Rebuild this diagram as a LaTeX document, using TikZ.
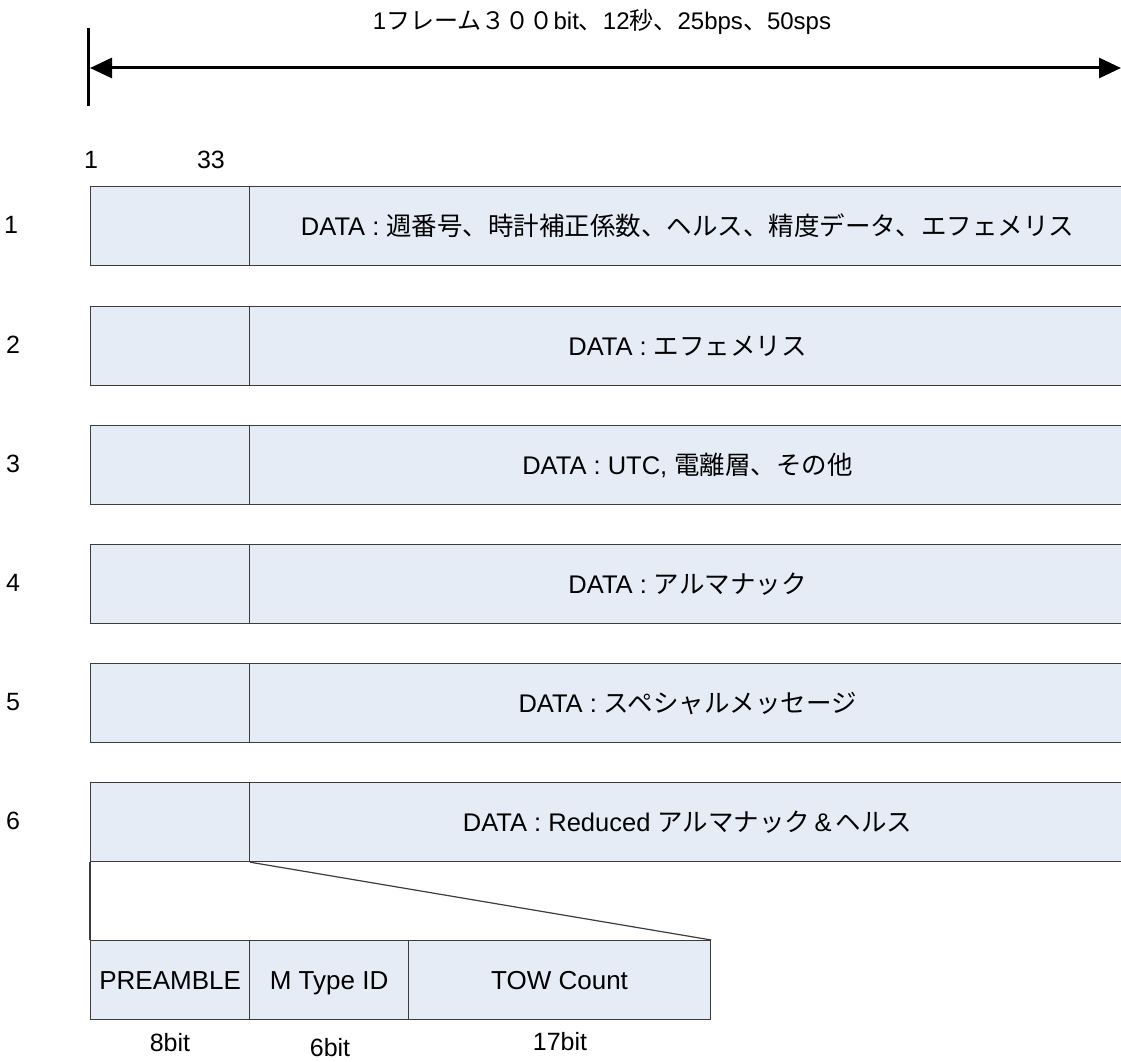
\documentclass[tikz,border=0pt]{standalone}
\usepackage{fontspec}
\setmainfont{Liberation Sans}
\newfontfamily\jp{Noto Sans CJK JP}
\usetikzlibrary{arrows.meta}
\definecolor{cellfill}{RGB}{230,236,246}
\definecolor{cellline}{RGB}{60,60,60}
\begin{document}
\begin{tikzpicture}[x=1pt,y=-1pt,
  cell/.style={draw=cellline, fill=cellfill, line width=1.2pt, minimum height=79pt,
    inner sep=0pt, anchor=north west, text height=21pt, text depth=2pt,
    font=\fontsize{25.5}{30}\selectfont},
  lbl/.style={font=\fontsize{25}{30}\selectfont, inner sep=0pt},
  thin/.style={draw=cellline, line width=1.2pt},
  bigarrow/.style={line width=3pt, {Triangle[length=22pt,width=20pt]}-{Triangle[length=22pt,width=20pt]}}]
\useasboundingbox (0,0) rectangle (1121,1062);
% top arrow
\coordinate (aL) at (90,68);
\coordinate (aR) at (1121,68);
\coordinate (tT) at (88,28);
\coordinate (tB) at (88,106);
\draw[line width=3pt] (tT) -- (tB);
\draw[bigarrow] (aL) -- (aR);
\node[lbl, font=\fontsize{24}{28}\selectfont] (title) at (602,22) {1{\jp フレーム３００}bit{\jp 、}12{\jp 秒、}25bps{\jp 、}50sps};
% column labels
\node[lbl] (c1) at (91,160) {1};
\node[lbl] (c33) at (211,160) {33};
% rows
\node[cell, minimum width=159pt] (h1) at (90,186) {};
\node[cell, minimum width=876pt] (d1) at (249,186) {DATA : {\jp 週番号、時計補正係数、ヘルス、精度データ、エフェメリス}};
\node[cell, minimum width=159pt] (h2) at (90,306) {};
\node[cell, minimum width=876pt] (d2) at (249,306) {DATA : {\jp エフェメリス}};
\node[cell, minimum width=159pt] (h3) at (90,425) {};
\node[cell, minimum width=876pt] (d3) at (249,425) {DATA : UTC, {\jp 電離層、その他}};
\node[cell, minimum width=159pt] (h4) at (90,544) {};
\node[cell, minimum width=876pt] (d4) at (249,544) {DATA : {\jp アルマナック}};
\node[cell, minimum width=159pt] (h5) at (90,663) {};
\node[cell, minimum width=876pt] (d5) at (249,663) {DATA : {\jp スペシャルメッセージ}};
\node[cell, minimum width=159pt] (h6) at (90,782) {};
\node[cell, minimum width=876pt] (d6) at (249,782) {DATA : Reduced {\jp アルマナック}\,\&\,{\jp ヘルス}};
% row numbers
\node[lbl] (r1) at (11,225) {1};
\node[lbl] (r2) at (13,345) {2};
\node[lbl] (r3) at (13,464) {3};
\node[lbl] (r4) at (13,583) {4};
\node[lbl] (r5) at (13,702) {5};
\node[lbl] (r6) at (13,821) {6};
% detail
\node[cell, minimum width=159pt, font=\fontsize{26}{30}\selectfont] (pre) at (90,940) {PREAMBLE};
\node[cell, minimum width=159pt, font=\fontsize{26}{30}\selectfont] (mt) at (249,940) {M Type ID};
\node[cell, minimum width=302pt, font=\fontsize{26}{30}\selectfont] (tow) at (408,940) {TOW Count};
\draw[thin] (h6.south west) -- (pre.north west);
\draw[thin] (h6.south east) -- (tow.north east);
\node[lbl] (b8) at (170,1043) {8bit};
\node[lbl] (b6) at (330,1048) {6bit};
\node[lbl] (b17) at (560,1042) {17bit};
\end{tikzpicture}
\end{document}
